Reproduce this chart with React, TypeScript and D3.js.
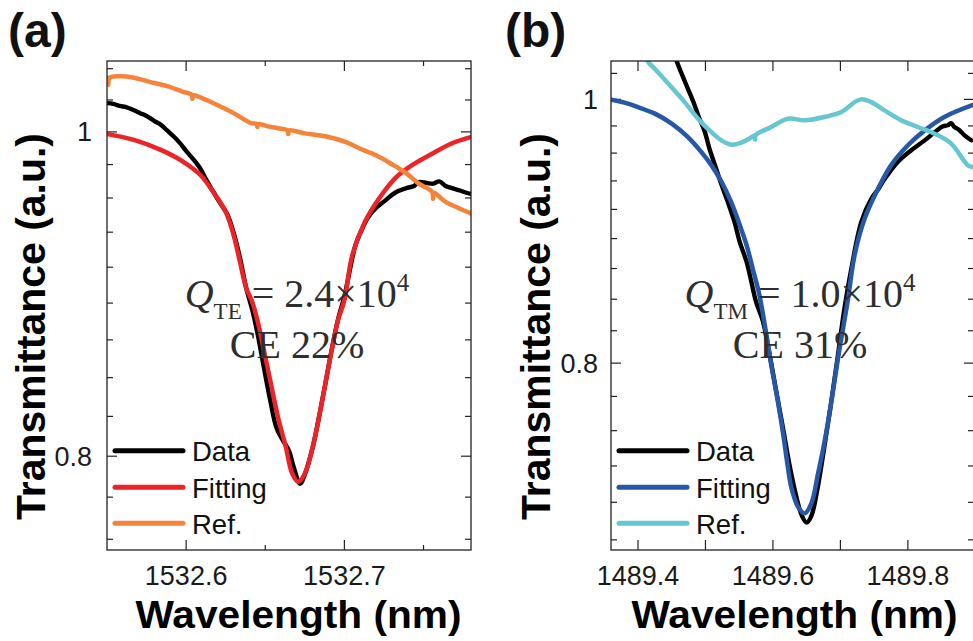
import React from 'react';
import * as d3 from 'd3';

type Pt = [number, number];

const xTitle = 'Wavelength (nm)';
const yTitle = 'Transmittance (a.u.)';
const legendNames = ['Data', 'Fitting', 'Ref.'];
const yTickLabels = [0.8, 1];
const yMinorStep = 0.2 / 9;

const aXTickLabels = [1532.6, 1532.7];
const aXMinorTicks = [1532.65, 1532.75];
const bXTickLabels = [1489.4, 1489.6, 1489.8];
const bXMinorTicks = [1489.5, 1489.7];

// Panel (a) – TE mode
const aData: Pt[] = [
  [1532.550, 1.020], [1532.554, 1.0195], [1532.558, 1.018], [1532.562, 1.0172], [1532.567, 1.015],
  [1532.571, 1.013], [1532.575, 1.011], [1532.580, 1.0075], [1532.584, 1.005], [1532.588, 1.001],
  [1532.592, 0.997], [1532.596, 0.9925], [1532.600, 0.987], [1532.604, 0.982], [1532.609, 0.975],
  [1532.613, 0.967], [1532.617, 0.960], [1532.621, 0.953], [1532.626, 0.945], [1532.630, 0.933],
  [1532.634, 0.917], [1532.638, 0.898], [1532.642, 0.884], [1532.645, 0.871], [1532.649, 0.851],
  [1532.653, 0.832], [1532.657, 0.816], [1532.661, 0.809], [1532.665, 0.803], [1532.668, 0.794],
  [1532.672, 0.785], [1532.675, 0.790], [1532.680, 0.805], [1532.684, 0.822], [1532.688, 0.841],
  [1532.692, 0.861], [1532.696, 0.879], [1532.700, 0.893], [1532.704, 0.912], [1532.707, 0.925],
  [1532.711, 0.935], [1532.715, 0.943], [1532.720, 0.949], [1532.726, 0.954], [1532.732, 0.959],
  [1532.739, 0.962], [1532.744, 0.9635], [1532.747, 0.966], [1532.752, 0.9655], [1532.756, 0.9650],
  [1532.760, 0.9665], [1532.764, 0.9635], [1532.768, 0.962], [1532.773, 0.9605], [1532.777, 0.959],
  [1532.781, 0.958],
];
const aFit: Pt[] = [
  [1532.550, 0.9986], [1532.567, 0.9945], [1532.584, 0.9877], [1532.598, 0.9798], [1532.609, 0.9708],
  [1532.617, 0.9597], [1532.625, 0.9466], [1532.630, 0.9315], [1532.634, 0.9145], [1532.638, 0.8980],
  [1532.642, 0.8890], [1532.646, 0.8745], [1532.650, 0.8566], [1532.654, 0.8391], [1532.658, 0.8219],
  [1532.663, 0.8051], [1532.667, 0.7905], [1532.671, 0.7860], [1532.675, 0.7905], [1532.680, 0.8051],
  [1532.684, 0.8219], [1532.688, 0.8411], [1532.692, 0.8606], [1532.696, 0.8786], [1532.700, 0.8907],
  [1532.705, 0.9188], [1532.713, 0.9401], [1532.722, 0.9554], [1532.732, 0.9686], [1532.743, 0.9775],
  [1532.756, 0.9854], [1532.768, 0.9922], [1532.781, 0.9968],
];
const aRef: Pt[] = [
  [1532.550, 1.038], [1532.5508, 1.033], [1532.5516, 1.038], [1532.558, 1.039], [1532.567, 1.038],
  [1532.577, 1.035], [1532.588, 1.032], [1532.598, 1.028], [1532.6035, 1.026], [1532.604, 1.023],
  [1532.6045, 1.0255], [1532.609, 1.024], [1532.619, 1.019], [1532.630, 1.013], [1532.641, 1.006],
  [1532.6445, 1.0055], [1532.645, 1.0035], [1532.6455, 1.0055], [1532.651, 1.004], [1532.658, 1.0025],
  [1532.664, 1.001], [1532.6645, 0.9985], [1532.665, 1.001], [1532.675, 0.999], [1532.688, 0.997],
  [1532.701, 0.993], [1532.709, 0.989], [1532.720, 0.984], [1532.730, 0.978], [1532.739, 0.972],
  [1532.747, 0.965], [1532.7555, 0.9595], [1532.756, 0.955], [1532.7565, 0.959], [1532.764, 0.953],
  [1532.772, 0.949], [1532.781, 0.945],
];

// Panel (b) – TM mode
const bData: Pt[] = [
  [1489.452, 1.045], [1489.457, 1.0335], [1489.464, 1.023], [1489.474, 1.009], [1489.482, 0.998],
  [1489.491, 0.984], [1489.499, 0.973], [1489.506, 0.959], [1489.514, 0.946], [1489.524, 0.930],
  [1489.533, 0.917], [1489.543, 0.9015], [1489.551, 0.886], [1489.561, 0.8715], [1489.568, 0.857],
  [1489.575, 0.8425], [1489.585, 0.829], [1489.595, 0.806], [1489.605, 0.781], [1489.615, 0.757],
  [1489.625, 0.733], [1489.635, 0.714], [1489.643, 0.703], [1489.650, 0.699], [1489.657, 0.703],
  [1489.665, 0.717], [1489.675, 0.742], [1489.685, 0.770], [1489.695, 0.801], [1489.706, 0.838],
  [1489.716, 0.866], [1489.731, 0.9015], [1489.746, 0.9195], [1489.755, 0.926], [1489.766, 0.9352],
  [1489.785, 0.9484], [1489.805, 0.9578], [1489.825, 0.9659], [1489.840, 0.9727], [1489.852, 0.9775],
  [1489.859, 0.9783], [1489.864, 0.9800], [1489.869, 0.9769], [1489.876, 0.9745], [1489.884, 0.970],
  [1489.894, 0.966],
];
const bFit: Pt[] = [
  [1489.360, 0.9997], [1489.380, 0.9972], [1489.400, 0.9935], [1489.425, 0.9880], [1489.450, 0.9797],
  [1489.474, 0.9686], [1489.494, 0.9564], [1489.509, 0.9457], [1489.524, 0.9325], [1489.538, 0.9169],
  [1489.551, 0.8990], [1489.561, 0.8839], [1489.570, 0.8667], [1489.580, 0.8473], [1489.590, 0.8203],
  [1489.598, 0.7975], [1489.607, 0.7754], [1489.615, 0.7538], [1489.622, 0.7330], [1489.627, 0.7205],
  [1489.637, 0.7085], [1489.647, 0.7045], [1489.657, 0.7105], [1489.667, 0.7288], [1489.677, 0.7496],
  [1489.687, 0.7754], [1489.696, 0.8020], [1489.706, 0.8296], [1489.711, 0.8437], [1489.721, 0.8765],
  [1489.736, 0.9041], [1489.756, 0.9273], [1489.775, 0.9457], [1489.800, 0.9619], [1489.825, 0.9741],
  [1489.854, 0.9852], [1489.900, 0.9960],
];
const bRef: Pt[] = [
  [1489.410, 1.040], [1489.4148, 1.0326], [1489.4296, 1.0233], [1489.4495, 1.0105], [1489.4692, 0.9977],
  [1489.4889, 0.9838], [1489.5087, 0.9727], [1489.5236, 0.9659], [1489.5384, 0.9624], [1489.5532, 0.9641],
  [1489.5640, 0.9670], [1489.5729, 0.9700], [1489.5735, 0.9665], [1489.5741, 0.9700], [1489.5976, 0.9769],
  [1489.6222, 0.9838], [1489.6470, 0.9824], [1489.6766, 0.9852], [1489.7013, 0.9893], [1489.7210, 0.9977],
  [1489.7310, 1.0000], [1489.7458, 0.9977], [1489.7655, 0.9907], [1489.7902, 0.9824], [1489.8148, 0.9769],
  [1489.8396, 0.9714], [1489.8643, 0.9632], [1489.8889, 0.9457], [1489.8959, 0.9444],
];

const TOP = 61;
const BOTTOM = 550;
const SANS = 'Liberation Sans, Arial, Helvetica, sans-serif';
const SERIF = 'Liberation Serif, Times New Roman, serif';

const panels = [
  {
    id: 'a', label: '(a)', labelX: 8,
    xDomain: [1532.55, 1532.78], yDomain: [0.75, 1.05], left: 107, right: 471,
    xTicks: aXTickLabels, xMinor: aXMinorTicks, minorLen: 5,
    series: [aData, aFit, aRef], colors: ['#000000', '#ec2327', '#f5843a'],
    titleX: 45, yLabelRight: 92, legendX: 115, xTitleCx: 298.5,
    annot: { cx: 297, sub: 'TE', val: '2.4', ce: 'CE 22%' },
  },
  {
    id: 'b', label: '(b)', labelX: 505,
    xDomain: [1489.36, 1489.898], yDomain: [0.683, 1.033], left: 611, right: 974,
    xTicks: bXTickLabels, xMinor: bXMinorTicks, minorLen: 10,
    series: [bData, bFit, bRef], colors: ['#000000', '#2757a7', '#66c7d1'],
    titleX: 550, yLabelRight: 598, legendX: 619, xTitleCx: 794.5,
    annot: { cx: 800, sub: 'TM', val: '1.0', ce: 'CE 31%' },
  },
];

function Panel({ p }: { p: any }) {
  const x = d3.scaleLinear().domain(p.xDomain).range([p.left, p.right]);
  const y = d3.scaleLog().domain(p.yDomain).range([BOTTOM, TOP]);
  const line = d3
    .line<Pt>()
    .x((d) => x(d[0]))
    .y((d) => y(d[1]))
    .curve(d3.curveCatmullRom.alpha(0.5));
  const yTicks = d3
    .range(-12, 16)
    .map((k) => 0.8 + k * yMinorStep)
    .filter((v) => v > p.yDomain[0] && v < p.yDomain[1]);
  const isMajorY = (v: number) => yTickLabels.some((t) => Math.abs(t - v) < 1e-6);
  const axisColor = '#222';
  const clipId = `clip-${p.id}`;
  const widths = [4.4, 4.5, 4.5];
  const legendY = [450.7, 487.3, 523.3];

  return (
    <g>
      <defs>
        <clipPath id={clipId}>
          <rect x={p.left} y={TOP} width={p.right - p.left} height={BOTTOM - TOP} />
        </clipPath>
      </defs>
      <text x={p.labelX} y={47} fontFamily={SANS} fontWeight="bold" fontSize={48} fill="#111">
        {p.label}
      </text>

      {/* ticks */}
      {yTicks.map((v, i) => {
        const len = isMajorY(v) ? 10 : 6;
        const yy = y(v);
        return (
          <g key={'yt' + i} stroke={axisColor} strokeWidth={1.2}>
            <line x1={p.left} x2={p.left + len} y1={yy} y2={yy} />
            <line x1={p.right} x2={p.right - len} y1={yy} y2={yy} />
          </g>
        );
      })}
      {p.xTicks.map((v: number, i: number) => (
        <g key={'xt' + i} stroke={axisColor} strokeWidth={1.2}>
          <line x1={x(v)} x2={x(v)} y1={BOTTOM} y2={BOTTOM - 10} />
          <line x1={x(v)} x2={x(v)} y1={TOP} y2={TOP + 10} />
        </g>
      ))}
      {p.xMinor.map((v: number, i: number) => (
        <g key={'xm' + i} stroke={axisColor} strokeWidth={1.2}>
          <line x1={x(v)} x2={x(v)} y1={BOTTOM} y2={BOTTOM - p.minorLen} />
          <line x1={x(v)} x2={x(v)} y1={TOP} y2={TOP + p.minorLen} />
        </g>
      ))}

      {/* curves */}
      <g clipPath={`url(#${clipId})`} fill="none" strokeLinejoin="round" strokeLinecap="round">
        {p.series.map((s: Pt[], i: number) => (
          <path key={'s' + i} d={line(s) || ''} stroke={p.colors[i]} strokeWidth={widths[i]} />
        ))}
      </g>

      {/* frame */}
      <rect
        x={p.left}
        y={TOP}
        width={p.right - p.left}
        height={BOTTOM - TOP}
        fill="none"
        stroke={axisColor}
        strokeWidth={1.3}
      />

      {/* tick labels */}
      {p.xTicks.map((v: number, i: number) => (
        <text key={'xl' + i} x={x(v)} y={585} textAnchor="middle" fontFamily={SANS} fontSize={27} fill="#1a1a1a">
          {v.toFixed(1)}
        </text>
      ))}
      {yTickLabels.map((v, i) => (
        <text
          key={'yl' + i}
          x={p.yLabelRight}
          y={y(v) + 9.5}
          textAnchor="end"
          fontFamily={SANS}
          fontSize={27}
          fill="#1a1a1a"
        >
          {v === 1 ? '1' : String(v)}
        </text>
      ))}

      {/* axis titles */}
      <text
        x={p.xTitleCx}
        y={628}
        textAnchor="middle"
        fontFamily={SANS}
        fontWeight="bold"
        fontSize={38}
        textLength={326}
        lengthAdjust="spacingAndGlyphs"
        fill="#000"
      >
        {xTitle}
      </text>
      <text
        transform={`translate(${p.titleX},326.5) rotate(-90)`}
        textAnchor="middle"
        fontFamily={SANS}
        fontWeight="bold"
        fontSize={41}
        textLength={387}
        lengthAdjust="spacingAndGlyphs"
        fill="#000"
      >
        {yTitle}
      </text>

      {/* annotation */}
      <text x={p.annot.cx} y={307} textAnchor="middle" fontFamily={SERIF} fontSize={40} fill="#2e2e2e">
        <tspan fontStyle="italic">Q</tspan>
        <tspan fontSize={23} dy={12}>{p.annot.sub}</tspan>
        <tspan dy={-12}>{` = ${p.annot.val}×10`}</tspan>
        <tspan fontSize={25} dy={-16}>4</tspan>
      </text>
      <text x={p.annot.cx} y={358} textAnchor="middle" fontFamily={SERIF} fontSize={40} fill="#2e2e2e">
        {p.annot.ce}
      </text>

      {/* legend */}
      {legendNames.map((name, i) => (
        <g key={'lg' + i}>
          <line
            x1={p.legendX}
            x2={p.legendX + 68}
            y1={legendY[i]}
            y2={legendY[i]}
            stroke={p.colors[i]}
            strokeWidth={5}
            strokeLinecap="round"
          />
          <text x={p.legendX + 77} y={legendY[i] + 10.5} fontFamily={SANS} fontSize={27.5} fill="#111">
            {name}
          </text>
        </g>
      ))}
    </g>
  );
}

export default function App() {
  return (
    <svg
      width={973}
      height={641}
      viewBox="0 0 973 641"
      style={{ position: 'absolute', left: 0, top: 0, background: '#fff' }}
    >
      <rect x={0} y={0} width={973} height={641} fill="#fff" />
      {panels.map((p) => (
        <Panel key={p.id} p={p} />
      ))}
    </svg>
  );
}
